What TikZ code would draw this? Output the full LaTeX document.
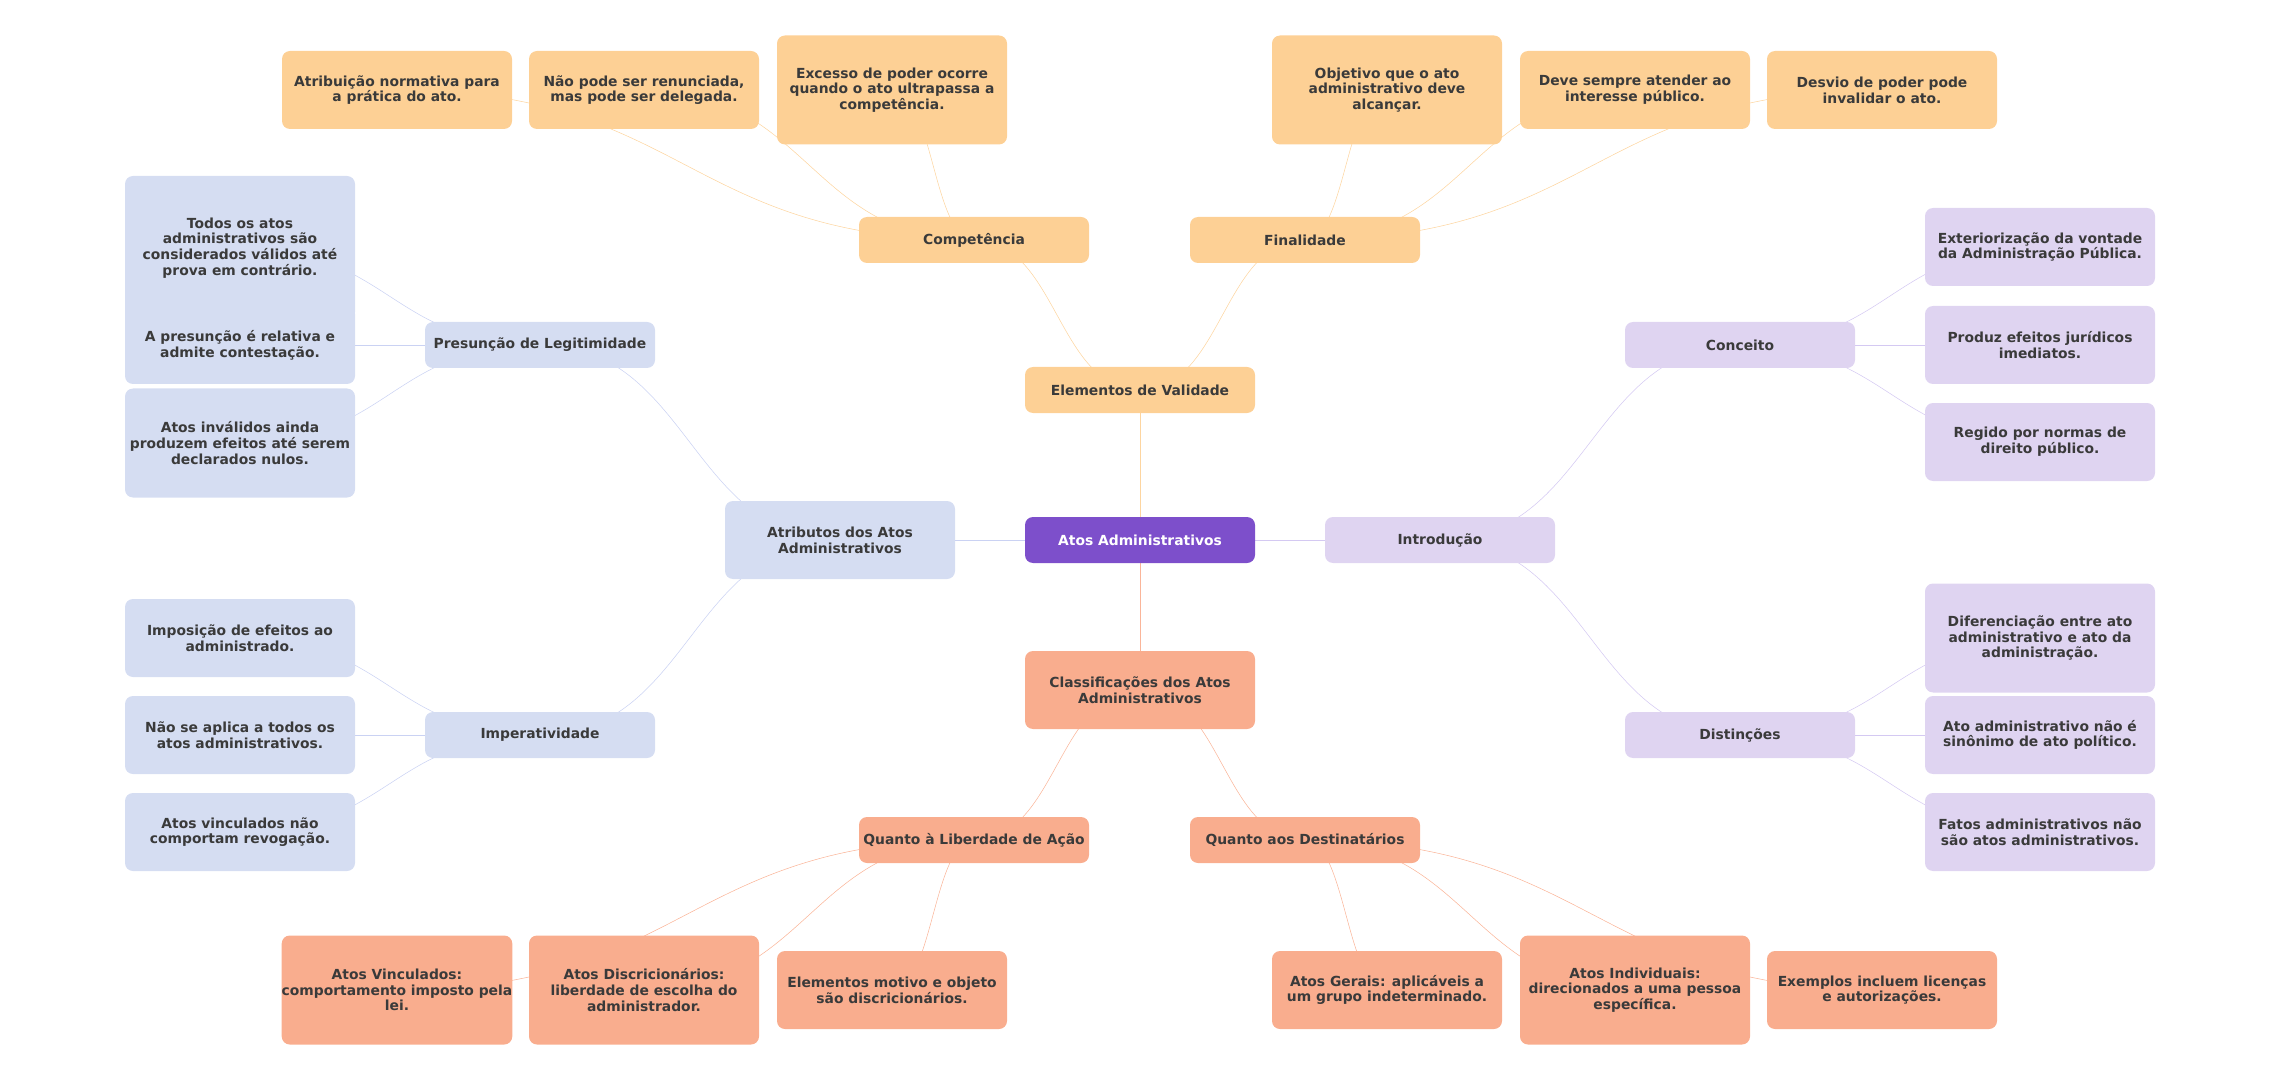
\documentclass[tikz,border=0pt]{standalone}
\usepackage{fontspec}
\setmainfont{DejaVu Sans}
\usetikzlibrary{calc,backgrounds}

\definecolor{ink}{HTML}{3A3A3A}
\definecolor{core}{HTML}{7D4FCB}
\definecolor{peach}{HTML}{FDD095}
\definecolor{salmon}{HTML}{F9AD8E}
\definecolor{bluegrey}{HTML}{D5DDF2}
\definecolor{lilac}{HTML}{DFD4F1}

\begin{document}
\begin{tikzpicture}[x=0.75pt,y=-0.75pt,line width=1.9pt,
    every node/.style = {rounded corners=6pt, align=center, inner sep=0pt,
        minimum width=172.5pt, text=ink,
        font=\fontsize{10.4}{11.8}\selectfont\bfseries},
    h1/.style={minimum height=34.5pt},
    h2/.style={minimum height=58.5pt},
    h3/.style={minimum height=81.75pt},
    h4/.style={minimum height=108pt},
    rootbox/.style={fill=core, text=white},
    peachbox/.style={fill=peach},
    salmonbox/.style={fill=salmon},
    bluebox/.style={fill=bluegrey},
    lilacbox/.style={fill=lilac},
    link/.style={to path={let \p1=(\tikztostart), \p2=(\tikztotarget) in
        .. controls ({(\x1+\x2)/2},\y1) and ({(\x1+\x2)/2},\y2) .. (\tikztotarget)}}]
    \useasboundingbox (0,0) rectangle (2280,1080);

    % centre and main branches
    \node[rootbox, h1] (root) at (1140,540) {Atos Administrativos};
    \node[peachbox, h1] (elem) at (1140,390) {Elementos de Validade};
    \node[salmonbox, h2] (class) at (1140,690) {Classificações dos Atos\\Administrativos};
    \node[bluebox, h2] (attr) at (840,540) {Atributos dos Atos\\Administrativos};
    \node[lilacbox, h1] (intro) at (1440,540) {Introdução};

    % Elementos de Validade
    \node[peachbox, h1] (comp) at (974,240) {Competência};
    \node[peachbox, h1] (fin) at (1305,240) {Finalidade};
    \node[peachbox, h2] (comp1) at (397,90) {Atribuição normativa para\\a prática do ato.};
    \node[peachbox, h2] (comp2) at (644,90) {Não pode ser renunciada,\\mas pode ser delegada.};
    \node[peachbox, h3] (comp3) at (892,90) {Excesso de poder ocorre\\quando o ato ultrapassa a\\competência.};
    \node[peachbox, h3] (fin1) at (1387,90) {Objetivo que o ato\\administrativo deve\\alcançar.};
    \node[peachbox, h2] (fin2) at (1635,90) {Deve sempre atender ao\\interesse público.};
    \node[peachbox, h2] (fin3) at (1882,90) {Desvio de poder pode\\invalidar o ato.};

    % Atributos
    \node[bluebox, h1] (pres) at (540,345) {Presunção de Legitimidade};
    \node[bluebox, h1] (imp) at (540,735) {Imperatividade};
    \node[bluebox, h4] (pres1) at (240,248) {Todos os atos\\administrativos são\\considerados válidos até\\prova em contrário.};
    \node[bluebox, h2] (pres2) at (240,345) {A presunção é relativa e\\admite contestação.};
    \node[bluebox, h3] (pres3) at (240,443) {Atos inválidos ainda\\produzem efeitos até serem\\declarados nulos.};
    \node[bluebox, h2] (imp1) at (240,638) {Imposição de efeitos ao\\administrado.};
    \node[bluebox, h2] (imp2) at (240,735) {Não se aplica a todos os\\atos administrativos.};
    \node[bluebox, h2] (imp3) at (240,832) {Atos vinculados não\\comportam revogação.};

    % Introdução
    \node[lilacbox, h1] (conc) at (1740,345) {Conceito};
    \node[lilacbox, h1] (dist) at (1740,735) {Distinções};
    \node[lilacbox, h2] (conc1) at (2040,247) {Exteriorização da vontade\\da Administração Pública.};
    \node[lilacbox, h2] (conc2) at (2040,345) {Produz efeitos jurídicos\\imediatos.};
    \node[lilacbox, h2] (conc3) at (2040,442) {Regido por normas de\\direito público.};
    \node[lilacbox, h3] (dist1) at (2040,638) {Diferenciação entre ato\\administrativo e ato da\\administração.};
    \node[lilacbox, h2] (dist2) at (2040,735) {Ato administrativo não é\\sinônimo de ato político.};
    \node[lilacbox, h2] (dist3) at (2040,832) {Fatos administrativos não\\são atos administrativos.};

    % Classificações
    \node[salmonbox, h1] (lib) at (974,840) {Quanto à Liberdade de Ação};
    \node[salmonbox, h1] (dest) at (1305,840) {Quanto aos Destinatários};
    \node[salmonbox, h3] (lib1) at (397,990) {Atos Vinculados:\\comportamento imposto pela\\lei.};
    \node[salmonbox, h3] (lib2) at (644,990) {Atos Discricionários:\\liberdade de escolha do\\administrador.};
    \node[salmonbox, h2] (lib3) at (892,990) {Elementos motivo e objeto\\são discricionários.};
    \node[salmonbox, h2] (dest1) at (1387,990) {Atos Gerais: aplicáveis a\\um grupo indeterminado.};
    \node[salmonbox, h3] (dest2) at (1635,990) {Atos Individuais:\\direcionados a uma pessoa\\específica.};
    \node[salmonbox, h2] (dest3) at (1882,990) {Exemplos incluem licenças\\e autorizações.};

    \begin{scope}[on background layer]
    \path[every edge/.style={draw=peach!90, link}]
        (root.center) edge (elem.center)
        (elem.center) edge (comp.center)
        (elem.center) edge (fin.center)
        (comp.center) edge (comp1.center)
        (comp.center) edge (comp2.center)
        (comp.center) edge (comp3.center)
        (fin.center) edge (fin1.center)
        (fin.center) edge (fin2.center)
        (fin.center) edge (fin3.center);
    \path[every edge/.style={draw=bluegrey!95!blue, link}]
        (root.center) edge (attr.center)
        (attr.center) edge (pres.center)
        (attr.center) edge (imp.center)
        (pres.center) edge (pres1.center)
        (pres.center) edge (pres2.center)
        (pres.center) edge (pres3.center)
        (imp.center) edge (imp1.center)
        (imp.center) edge (imp2.center)
        (imp.center) edge (imp3.center);
    \path[every edge/.style={draw=lilac!95!blue, link}]
        (root.center) edge (intro.center)
        (intro.center) edge (conc.center)
        (intro.center) edge (dist.center)
        (conc.center) edge (conc1.center)
        (conc.center) edge (conc2.center)
        (conc.center) edge (conc3.center)
        (dist.center) edge (dist1.center)
        (dist.center) edge (dist2.center)
        (dist.center) edge (dist3.center);
    \path[every edge/.style={draw=salmon!90, link}]
        (root.center) edge (class.center)
        (class.center) edge (lib.center)
        (class.center) edge (dest.center)
        (lib.center) edge (lib1.center)
        (lib.center) edge (lib2.center)
        (lib.center) edge (lib3.center)
        (dest.center) edge (dest1.center)
        (dest.center) edge (dest2.center)
        (dest.center) edge (dest3.center);
    \end{scope}
\end{tikzpicture}
\end{document}
